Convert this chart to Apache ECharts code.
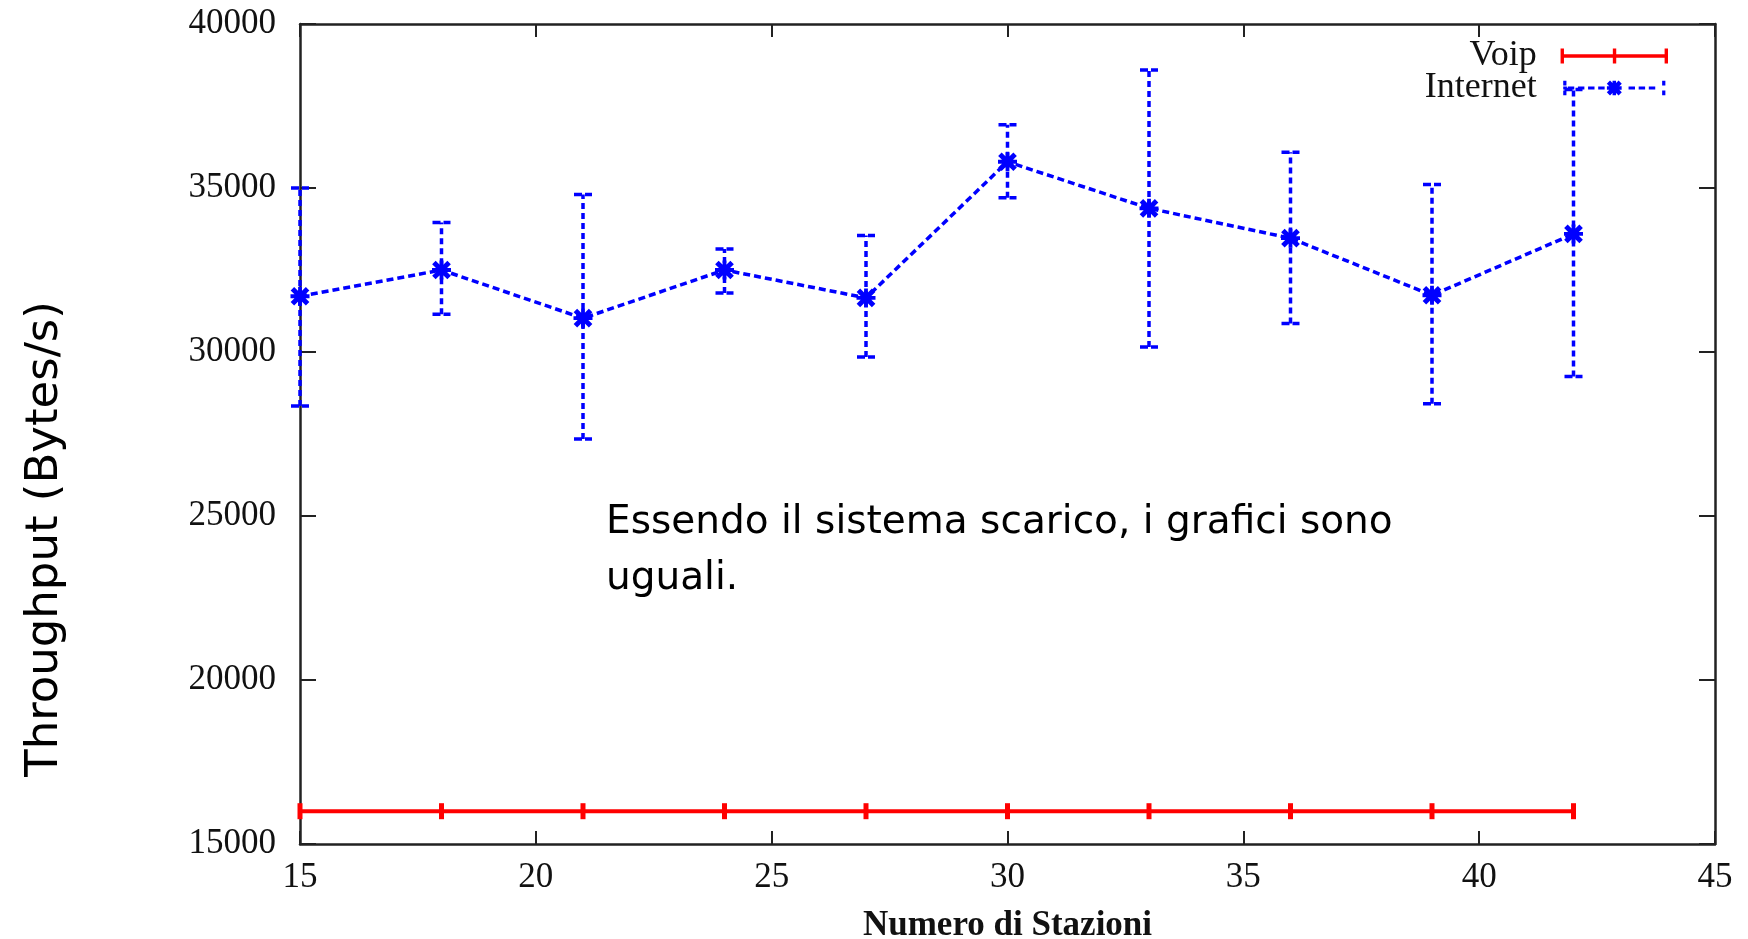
<!DOCTYPE html>
<html>
<head>
<meta charset="utf-8">
<script src="https://cdn.jsdelivr.net/npm/echarts@6/dist/echarts.min.js"></script>
<style>html,body{margin:0;padding:0;background:#fff}#c{width:1748px;height:939px}</style>
</head>
<body>
<div id="c"></div>
<script>
// ---- data ----
const stations = [15, 18, 21, 24, 27, 30, 33, 36, 39, 42];
const voip = [16000, 16000, 16000, 16000, 16000, 16000, 16000, 16000, 16000, 16000];
const internet = [31700, 32500, 31030, 32500, 31650, 35800, 34380, 33470, 31730, 33600];
const internetLow = [28350, 31150, 27350, 31800, 29850, 34700, 30150, 30870, 28420, 29250];
const internetHigh = [35000, 33950, 34800, 33140, 33550, 36930, 38600, 36090, 35110, 38000];
const xTicks = [15, 20, 25, 30, 35, 40, 45];
const yTicks = [15000, 20000, 25000, 30000, 35000, 40000];
const seriesNames = ['Voip', 'Internet'];
const axisTitles = { x: 'Numero di Stazioni', y: 'Throughput (Bytes/s)' };
const note = 'Essendo il sistema scarico, i grafici sono\nuguali.';

// ---- shapes ----
function poly(pts) {
  let a = 0;
  for (let i = 0; i < pts.length; i++) {
    const p = pts[i], q = pts[(i + 1) % pts.length];
    a += p[0] * q[1] - q[0] * p[1];
  }
  if (a < 0) pts = pts.slice().reverse();
  return 'M' + pts.map(p => p[0].toFixed(2) + ',' + p[1].toFixed(2)).join(' L') + ' Z ';
}
function rect(x, y, w, h) { return poly([[x, y], [x + w, y], [x + w, y + h], [x, y + h]]); }
function asterisk(cx, cy, r, t) {
  let s = rect(cx - r, cy - t, 2 * r, 2 * t) + rect(cx - t, cy - r, 2 * t, 2 * r);
  const d = r * 0.8, n = t / Math.SQRT2 * 1.3;
  s += poly([[cx - d - n, cy - d + n], [cx + d - n, cy + d + n], [cx + d + n, cy + d - n], [cx - d + n, cy - d - n]]);
  s += poly([[cx - d - n, cy + d - n], [cx + d - n, cy - d - n], [cx + d + n, cy - d + n], [cx - d + n, cy + d + n]]);
  return s;
}
const starPath = 'path://' + asterisk(10, 10, 10, 2);
const voipIcon = 'path://' + rect(0, 6, 111, 3.5) + rect(0, 0, 3.5, 15.5) + rect(54, 0, 3.5, 15.5) + rect(107.5, 0, 3.5, 15.5);
let inetIcon = '';
for (let x = 5; x < 104; x += 11) { if (x + 7 < 46 || x > 66) inetIcon += rect(x, 6, 7, 3.5); }
inetIcon += rect(0, 0, 3.5, 5) + rect(0, 10.5, 3.5, 5) + rect(0, 6, 4, 3.5);
inetIcon += rect(107.5, 0, 3.5, 5) + rect(107.5, 10.5, 3.5, 5);
inetIcon += asterisk(55.5, 7.75, 8, 1.9);
inetIcon = 'path://' + inetIcon;

const serif = '"Liberation Serif", "Times New Roman", serif';
const sans = '"DejaVu Sans", sans-serif';
const axisColor = '#222';
const plain = v => String(v);

const chart = echarts.init(document.getElementById('c'), null, { renderer: 'canvas' });
const errData = stations.map((x, i) => [x, internetLow[i], internetHigh[i]]);

chart.setOption({
  animation: false,
  backgroundColor: '#fff',
  grid: { left: 300, right: 33, top: 24, bottom: 95, show: false, containLabel: false, outerBoundsMode: 'none' },
  legend: {
    orient: 'vertical', right: 75, top: 33, align: 'right',
    itemWidth: 111, itemHeight: 15, itemGap: -4,
    selectedMode: false,
    textStyle: { fontFamily: serif, fontSize: 36, color: '#111', lineHeight: 32, padding: [0, 17, 0, 0] },
    data: [
      { name: seriesNames[0], icon: voipIcon, itemStyle: { color: '#ff0000' } },
      { name: seriesNames[1], icon: inetIcon, itemStyle: { color: '#0000ff' } }
    ]
  },
  xAxis: [{
    type: 'value', min: xTicks[0], max: xTicks[xTicks.length - 1], interval: 5,
    name: axisTitles.x, nameLocation: 'middle', nameGap: 64,
    nameTextStyle: { fontFamily: serif, fontSize: 35, color: '#111', fontWeight: 'bold' },
    axisLine: { show: true, onZero: false, lineStyle: { color: axisColor, width: 2.5 } },
    axisTick: { show: true, inside: true, length: 13, lineStyle: { color: axisColor, width: 2 } },
    axisLabel: { margin: 16, fontFamily: serif, fontSize: 35, color: '#111', formatter: plain },
    splitLine: { show: false }
  }, {
    type: 'value', position: 'top', min: xTicks[0], max: xTicks[xTicks.length - 1], interval: 5,
    axisLine: { show: true, onZero: false, lineStyle: { color: axisColor, width: 2.5 } },
    axisTick: { show: true, inside: true, length: 13, lineStyle: { color: axisColor, width: 2 } },
    axisLabel: { show: false }, splitLine: { show: false }
  }],
  yAxis: [{
    type: 'value', min: yTicks[0], max: yTicks[yTicks.length - 1], interval: 5000,
    name: axisTitles.y, nameLocation: 'middle', nameGap: 232, nameRotate: 90,
    nameTextStyle: { fontFamily: sans, fontSize: 45, color: '#000', padding: [0, 210, 0, 0] },
    axisLine: { show: true, onZero: false, lineStyle: { color: axisColor, width: 2.5 } },
    axisTick: { show: true, inside: true, length: 16, lineStyle: { color: axisColor, width: 2 } },
    axisLabel: { margin: 24, fontFamily: serif, fontSize: 35, color: '#111', formatter: plain },
    splitLine: { show: false }
  }, {
    type: 'value', position: 'right', min: yTicks[0], max: yTicks[yTicks.length - 1], interval: 5000,
    axisLine: { show: true, onZero: false, lineStyle: { color: axisColor, width: 2.5 } },
    axisTick: { show: true, inside: true, length: 16, lineStyle: { color: axisColor, width: 2 } },
    axisLabel: { show: false }, splitLine: { show: false }
  }],
  graphic: [{
    type: 'text', left: 606, top: 495, z: 100,
    style: { text: note, font: '39px "DejaVu Sans", sans-serif', lineHeight: 56, fill: '#000' }
  }],
  series: [
    {
      name: seriesNames[0], type: 'line',
      data: stations.map((x, i) => [x, voip[i]]),
      symbol: 'rect', symbolSize: [5, 16], showSymbol: true,
      lineStyle: { color: '#ff0000', width: 4 },
      itemStyle: { color: '#ff0000' },
      z: 3
    },
    {
      name: 'InternetErr', type: 'custom',
      data: errData,
      encode: { x: 0, y: [1, 2] },
      z: 2,
      renderItem: function (params, api) {
        const x = api.value(0);
        const lo = api.coord([x, api.value(1)]);
        const hi = api.coord([x, api.value(2)]);
        const hw = 9;
        const style = { stroke: '#0000ff', lineWidth: 3.5, lineDash: [6, 4], fill: null };
        return {
          type: 'group',
          children: [
            { type: 'line', shape: { x1: lo[0], y1: lo[1], x2: hi[0], y2: hi[1] }, style: style },
            { type: 'line', shape: { x1: hi[0] - hw, y1: hi[1], x2: hi[0] + hw, y2: hi[1] }, style: { stroke: '#0000ff', lineWidth: 3.5, lineDash: [8, 3] } },
            { type: 'line', shape: { x1: lo[0] - hw, y1: lo[1], x2: lo[0] + hw, y2: lo[1] }, style: { stroke: '#0000ff', lineWidth: 3.5, lineDash: [8, 3] } }
          ]
        };
      }
    },
    {
      name: seriesNames[1], type: 'line',
      data: stations.map((x, i) => [x, internet[i]]),
      symbol: starPath, symbolSize: 19, showSymbol: true,
      lineStyle: { color: '#0000ff', width: 3.5, type: [7, 4] },
      itemStyle: { color: '#0000ff' },
      z: 4
    }
  ]
});
</script>
</body>
</html>
